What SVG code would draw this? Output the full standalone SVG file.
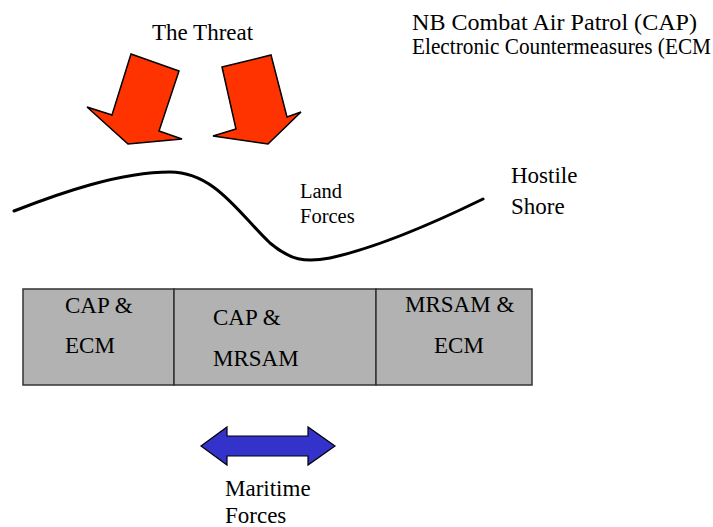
<svg xmlns="http://www.w3.org/2000/svg" width="713" height="527" viewBox="0 0 713 527">
<style>
text{font-family:"Liberation Serif","Times New Roman",serif;font-size:23px;fill:#000}
.small{font-size:20.5px}
.threat{fill:#FF3300;stroke:#000;stroke-width:1.5;stroke-linejoin:miter}
.cell{fill:#B2B2B2;stroke:#333;stroke-width:1.5}
.sea{fill:#3333CC;stroke:#000;stroke-width:1.2}
</style>
<rect width="713" height="527" fill="#fff"/>
<g id="threat">
<text x="152" y="40">The Threat</text>
<polygon class="threat" points="131,54 179,71 159,131 182,139 128,144 87,107 112,115"/>
<polygon class="threat" points="222,67 271,55 287,117 301,112 268,144 213,136 236,129"/>
</g>
<g id="legend">
<text x="412" y="30" textLength="285" lengthAdjust="spacingAndGlyphs">NB Combat Air Patrol (CAP)</text>
<text x="412" y="54" font-size="22.5" textLength="299" lengthAdjust="spacingAndGlyphs">Electronic Countermeasures (ECM</text>
</g>
<g id="shore">
<path d="M14,211 C60,193 120,172 170,172 C215,172 240,215 270,243 C290,260 305,263 330,258 C380,247 440,220 483,199" fill="none" stroke="#000" stroke-width="3" stroke-linecap="round"/>
<text x="511" y="183">Hostile</text>
<text x="511" y="214">Shore</text>
</g>
<g id="land">
<text class="small" x="300" y="198">Land</text>
<text class="small" x="300" y="223">Forces</text>
</g>
<g id="cell1">
<rect class="cell" x="23" y="289" width="151" height="96"/>
<text x="65" y="313">CAP &amp;</text>
<text x="65" y="353">ECM</text>
</g>
<g id="cell2">
<rect class="cell" x="174" y="289" width="202" height="96"/>
<text x="213" y="325">CAP &amp;</text>
<text x="213" y="366">MRSAM</text>
</g>
<g id="cell3">
<rect class="cell" x="376" y="289" width="156" height="96"/>
<text x="405" y="312">MRSAM &amp;</text>
<text x="434" y="353">ECM</text>
</g>
<g id="maritime">
<polygon class="sea" points="201,446 227,427 227,436 308,436 308,427 335,446 308,465 308,456 227,456 227,465"/>
<text x="225" y="496">Maritime</text>
<text x="225" y="523">Forces</text>
</g>
</svg>
